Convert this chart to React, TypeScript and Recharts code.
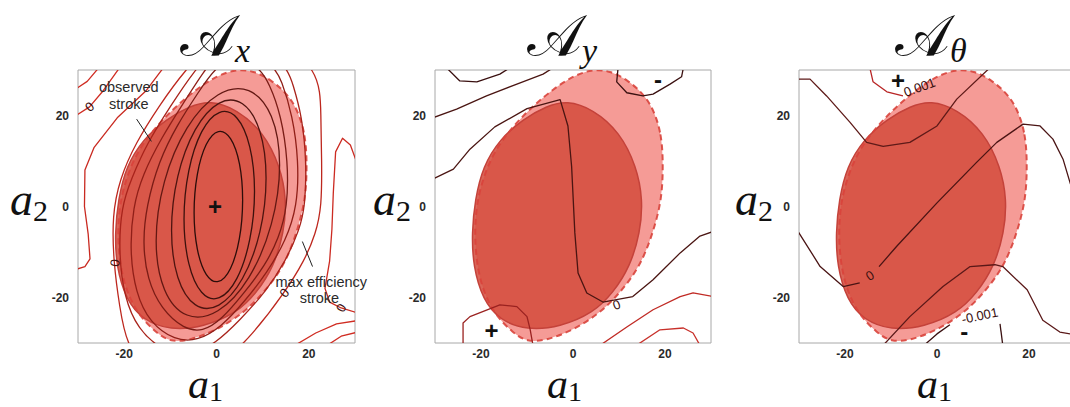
import React from 'react';
import { ScatterChart, Scatter, XAxis, YAxis, ReferenceArea, Curve } from 'recharts';

type P = [number, number];
type Lbl = { x: number; y: number; text: string; angle?: number };

const DOMAIN: [number, number] = [-30, 30];
const TICKS = [-20, 0, 20];

// stroke regions in (a1, a2) space
const maxEffStroke: P[] = [
  [19.6, 8.8], [19.3, 16.3], [16.7, 23.6], [11.7, 28], [8, 29.8], [4.3, 30.2], [0, 28.7],
  [-4.3, 25.8], [-8.7, 22.1], [-13, 17.7], [-17.4, 11.9], [-20.2, 4.4], [-21.3, -2.2],
  [-21.3, -9.5], [-20.2, -16.8], [-17.4, -23.4], [-13, -27.8], [-10, -29.8], [-5.7, -29.4],
  [0, -27.2], [5.9, -23.4], [10.2, -19], [14.6, -13.2], [17.4, -5.8], [19.3, 1.5],
];
const observedStroke: P[] = [
  [15.2, 1.5], [13.8, 8.8], [10.2, 16.3], [4.4, 21.4], [-1.4, 23.3], [-5.7, 22.1],
  [-10.9, 19.2], [-15.9, 14.8], [-19.6, 8.8], [-21.3, 1.5], [-22, -5.8], [-21.7, -13.2],
  [-19.6, -20.5], [-15.9, -25], [-10, -27.2], [-2.8, -26.5], [4.4, -23.4], [8.7, -19],
  [12.4, -13.2], [14.6, -5.8],
];

// A_x contour levels (closed rings, innermost first)
const ax1: P[] = [[5.9, 1.4], [5.2, 9.8], [3.15, 15.6], [0.4, 17.25], [-2.35, 14.25], [-4.36, 7.4], [-5.1, -1.4], [-4.36, -9.8], [-2.35, -15.6], [0.4, -17.25], [3.15, -14.25], [5.16, -7.4]];
const ax2: P[] = [[8.6, 3.5], [7.5, 13.7], [4.6, 20.35], [0.6, 21.6], [-3.4, 17.15], [-6.3, 8.2], [-7.4, -2.9], [-6.3, -13.1], [-3.4, -19.75], [0.6, -21.0], [4.6, -16.55], [7.5, -7.6]];
const ax3: P[] = [[11.2, 6.5], [9.8, 17.3], [5.85, 23.6], [0.5, 23.7], [-4.85, 17.6], [-8.8, 6.9], [-10.2, -5.5], [-8.8, -16.3], [-4.85, -22.6], [0.5, -22.7], [5.85, -16.6], [9.8, -5.9]];
const ax4: P[] = [[14.3, 9.5], [12.4, 20.7], [7.3, 26.6], [0.3, 25.6], [-6.7, 18.0], [-11.8, 5.7], [-13.7, -7.9], [-11.8, -19.1], [-6.7, -25.0], [0.3, -24.0], [7.3, -16.4], [12.4, -4.1]];
const ax5: P[] = [[15.4, 0], [15.5, 10], [14, 20], [11.5, 27], [9, 31], [4, 32.5], [0, 31], [-4, 25], [-8.5, 18], [-12.5, 10], [-15.2, 0], [-16, -8], [-15, -16], [-12, -22.5], [-7, -27], [-3, -27.5], [1, -25], [6, -19], [10.5, -13], [13.5, -7]];
const ax6: P[] = [[17.5, 0], [17.8, 10], [16.5, 20], [14, 28], [12.6, 30.5], [8, 34], [0, 33], [-2.6, 30], [-7, 23], [-12, 15], [-16, 7], [-18.1, 0], [-18.8, -10], [-17.5, -19], [-14.5, -25.5], [-9, -29.5], [-4, -29.5], [1, -26.5], [6, -21], [11, -14.5], [15, -7.5]];
const ax7: P[] = [[19.2, 0], [19.5, 10], [18.5, 20], [16.5, 27], [15.4, 30.5], [10, 35], [0, 35], [-4.8, 30], [-10, 22], [-15, 14], [-18.5, 6], [-20.6, 0], [-21.2, -10], [-20, -20], [-17, -27], [-12, -31.5], [-6, -33], [0, -30], [5, -25], [10.5, -19], [15, -12], [18, -5]];
const ax8: P[] = [[22.8, 0], [22.8, 10], [22.6, 20], [22.4, 30.5], [12, 37], [0, 37], [-6.9, 30], [-12.5, 22], [-17.5, 14], [-21, 6], [-22.6, -2], [-22.3, -12.4], [-21, -22], [-19.5, -30.5], [-15, -36], [0, -36], [8, -28], [14.7, -19], [19, -12], [21.5, -6]];

// A_x open contour pieces reaching the frame
const ax9: P[] = [[-31, -14], [-28.5, -13.2], [-27.4, -11.5], [-27.8, -6], [-28.6, 0], [-28.5, 8], [-26.5, 13], [-21.5, 19.5], [-15.2, 25.5], [-11.5, 30.5]];
const axBump: P[] = [[31, 8], [29, 13.5], [27.3, 15], [25.8, 12], [25.3, 3], [25, -5], [24.5, -12], [23.5, -18], [24.5, -21], [27, -22.3], [31, -23.5]];
const axCornerA: P[] = [[-31, 19.6], [-27.5, 21.9], [-24.5, 25.5], [-21, 30.5]];
const axCornerB: P[] = [[-31, 25.5], [-28, 27.5], [-25.5, 30.5]];
const axCornerC: P[] = [[17, -30.5], [21.5, -27.8], [26, -25.8], [31, -25]];
const axCornerD: P[] = [[24, -30.5], [27, -28.5], [31, -27.5]];

const axRings = [ax1, ax2, ax3, ax4, ax5, ax6, ax7, ax8];
const axRingColors = ['#2c0d0a', '#3c110d', '#4e1410', '#631813', '#7a1c16', '#901f18', '#a8231b', '#bd271e'];
const axOpen = [ax9, axBump, axCornerA, axCornerB, axCornerC, axCornerD];
const axOpenColors = ['#c92a21', '#cc2b22', '#d02c22', '#d02c22', '#d02c22', '#d02c22'];

const axLeaderObserved: P[] = [[-17.3, 19.2], [-14.1, 14.3]];
const axLeaderMaxEff: P[] = [[18.6, -7.7], [20.8, -13.2]];

const axNotes: Lbl[] = [
  { x: -19, y: 26.3, text: 'observed' },
  { x: -19, y: 22.5, text: 'stroke' },
  { x: 22.7, y: -16.6, text: 'max efficiency' },
  { x: 22.3, y: -20, text: 'stroke' },
];
const axLevelLabels: Lbl[] = [
  { x: -27.5, y: 21.9, text: '0', angle: -40 },
  { x: -22, y: -12.4, text: '0', angle: -80 },
  { x: 14.7, y: -19, text: '0', angle: -50 },
  { x: 27, y: -22.3, text: '0', angle: -60 },
];
const axSigns: Lbl[] = [{ x: -0.3, y: 0, text: '+' }];

// A_y contours
const ay1: P[] = [[-27.5, 30.5], [-24.6, 27.6], [-20.9, 27.4], [-15.9, 29.1], [-13.7, 30.5]];
const ay2: P[] = [[-30.5, 19.5], [-25.3, 21.4], [-18.8, 24.3], [-12.2, 26.9], [-6.5, 29.1], [-4.3, 30.5]];
const ayZero: P[] = [[-30.5, 6], [-26, 8.2], [-22.4, 12.6], [-17, 17.5], [-10, 21.5], [-2.8, 23.5], [-1.1, 17.7], [-0.3, 8.8], [0.4, -5.8], [1.1, -14.6], [3, -19], [6.5, -21], [13, -19.8], [17.4, -16.1], [23.3, -10.2], [27.6, -6.5], [30.5, -5.5]];
const ay3: P[] = [[9.8, 30.5], [9.5, 27.4], [11.7, 25], [15.2, 24.3], [17.4, 24.7], [21.1, 26.9], [23.6, 28.5], [24, 30.5]];
const ay4: P[] = [[-23.9, -30.5], [-23.9, -25.6], [-22.4, -24.2], [-15.9, -21.6], [-12.2, -22], [-10, -24.2], [-9.3, -27.1], [-8.7, -30.5]];
const ay5: P[] = [[5.9, -30.5], [11.7, -26.5], [17.4, -22.7], [23.3, -19.8], [26.1, -19], [30.5, -19.8]];
const ay6: P[] = [[13.8, -30.5], [18.9, -27.1], [24, -26.7], [26.1, -27.8], [27.6, -30.5]];
const ayLines = [ay1, ay2, ayZero, ay3, ay4, ay5, ay6];
const ayColors = ['#3a1010', '#4a1512', '#4a1512', '#3a1010', '#9a2220', '#c02a24', '#c8302a'];
const ayLevelLabels: Lbl[] = [{ x: 9.5, y: -21.6, text: '0', angle: -20 }];
const aySigns: Lbl[] = [{ x: -17.7, y: -27.2, text: '+' }, { x: 18.5, y: 28, text: '-' }];

// A_theta contours
const at1: P[] = [[-30.5, 28], [-27.6, 28], [-24, 24.3], [-18.9, 18.5], [-15.3, 14.1], [-11.7, 13.2], [-5.9, 14.1], [0, 17.7], [4.3, 23.6], [11.5, 30.5]];
const at2: P[] = [[-14.6, 30.5], [-13.9, 27.4], [-10.9, 25.2], [-7.4, 24.3]];
const atZero: P[] = [[-30.5, -5], [-25.4, -13.2], [-20.4, -17.6], [-16.8, -16.8]];
const atZeroB: P[] = [[-12.6, -13.2], [-8.8, -8.8], [0, 0.8], [8.6, 9.7], [13, 14.1], [18.7, 18.1], [22.4, 17.7], [25.2, 14.8], [27.4, 10.4], [29, 5], [30.5, 2]];
const at3: P[] = [[-11.7, -30.5], [-5.9, -24.2], [1.3, -17.6], [7.2, -13.2], [12.6, -12.8], [14.3, -13.2], [19.6, -18.3], [23, -25], [26.7, -27.6], [29, -28], [30.5, -29]];
const at4: P[] = [[-2.8, -30.5], [0, -28], [2.8, -26]];
const at5: P[] = [[13.7, -25.8], [14.3, -30.5]];
const atLines = [at1, at2, atZero, atZeroB, at3, at4, at5];
const atColors = ['#5e1a18', '#b82424', '#4a1414', '#4a1414', '#5a1818', '#3a1010', '#3a1010'];
const atLevelLabels: Lbl[] = [
  { x: -14.6, y: -15.2, text: '0', angle: -30 },
  { x: -3.8, y: 26.2, text: '0.001', angle: -20 },
  { x: 9.3, y: -24, text: '-0.001', angle: -12 },
];
const atSigns: Lbl[] = [{ x: -8.5, y: 27.6, text: '+' }, { x: 5.9, y: -27.5, text: '-' }];

const toRows = (pts: P[]) => pts.map(([x, y]) => ({ x, y }));
const noDot = () => <g />;
const SANS = 'Liberation Sans, Arial, Helvetica, sans-serif';

const textShape = (fontSize: number, fontWeight: number | string, fill: string) => (p: any) => {
  const d = p.payload as Lbl;
  return (
    <text
      x={p.cx}
      y={p.cy}
      textAnchor="middle"
      dominantBaseline="central"
      fontSize={fontSize}
      fontWeight={fontWeight}
      fill={fill}
      fontFamily={SANS}
      transform={d.angle ? `rotate(${d.angle} ${p.cx} ${p.cy})` : undefined}
    >
      {d.text}
    </text>
  );
};

type LineSpec = { pts: P[]; color: string; closed?: boolean; width?: number };

type PanelProps = {
  left: number;
  right: number;
  lines: LineSpec[];
  notes?: Lbl[];
  leaders?: P[][];
  levelLabels: Lbl[];
  signs: Lbl[];
};

const CHART_W = 1080;
const PLOT_TOP = 70;
const PLOT_BOTTOM = 343;
const TICK_STYLE = { fontSize: 12, fill: '#2a2a2a', fontFamily: SANS, fontWeight: 'bold' as const };

function Panel({ left, right, lines, notes = [], leaders = [], levelLabels, signs }: PanelProps) {
  return (
    <ScatterChart
      width={CHART_W}
      height={407}
      margin={{ top: PLOT_TOP, right: CHART_W - right, bottom: 407 - PLOT_BOTTOM - 30, left: left - 30 }}
      style={{ position: 'absolute', left: 0, top: 0 }}
    >
      <XAxis
        type="number"
        dataKey="x"
        domain={DOMAIN}
        ticks={TICKS}
        height={30}
        axisLine={false}
        tickLine={false}
        tickSize={5}
        tickMargin={1}
        tick={TICK_STYLE}
      />
      <YAxis
        type="number"
        dataKey="y"
        domain={DOMAIN}
        ticks={TICKS}
        width={30}
        axisLine={false}
        tickLine={false}
        tickSize={6}
        tickMargin={3}
        tick={TICK_STYLE}
      />
      <XAxis xAxisId="clip" type="number" dataKey="x" domain={DOMAIN} allowDataOverflow hide />
      <YAxis yAxisId="clip" type="number" dataKey="y" domain={DOMAIN} allowDataOverflow hide />
      <ReferenceArea x1={-30} x2={30} y1={-30} y2={30} fill="#ffffff" fillOpacity={0} stroke="#a8a8a8" strokeWidth={1} />

      <Scatter
        data={toRows(maxEffStroke)}
        xAxisId="clip"
        yAxisId="clip"
        isAnimationActive={false}
        shape={noDot}
        lineType="joint"
        line={(lp: any) => (
          <Curve points={lp.points} type="basisClosed" fill="#f59b96" stroke="none" />
        )}
      />
      <Scatter
        data={toRows(observedStroke)}
        xAxisId="clip"
        yAxisId="clip"
        isAnimationActive={false}
        shape={noDot}
        lineType="joint"
        line={(lp: any) => (
          <Curve points={lp.points} type="basisClosed" fill="#d44c3d" fillOpacity={0.86} stroke="#c4423a" strokeWidth={1.5} />
        )}
      />
      <Scatter
        data={toRows(maxEffStroke)}
        xAxisId="clip"
        yAxisId="clip"
        isAnimationActive={false}
        shape={noDot}
        lineType="joint"
        line={(lp: any) => (
          <Curve points={lp.points} type="basisClosed" fill="none" stroke="#d8433b" strokeWidth={2} strokeDasharray="6 4" strokeOpacity={0.9} />
        )}
      />

      {lines.map((l, i) => (
        <Scatter
          key={`c${i}`}
          data={toRows(l.pts)}
          xAxisId="clip"
          yAxisId="clip"
          isAnimationActive={false}
          shape={noDot}
          lineType="joint"
          line={(lp: any) => (
            <Curve points={lp.points} type={l.closed ? 'basisClosed' : 'linear'} fill="none" stroke={l.color} strokeWidth={l.width ?? 1.3} strokeLinejoin="round" />
          )}
        />
      ))}

      {leaders.map((pts, i) => (
        <Scatter
          key={`ld${i}`}
          data={toRows(pts)}
          isAnimationActive={false}
          shape={noDot}
          lineType="joint"
          line={(lp: any) => <Curve points={lp.points} type="linear" fill="none" stroke="#222" strokeWidth={1} />}
        />
      ))}

      <Scatter data={notes} isAnimationActive={false} shape={textShape(14.5, 'normal', '#2a2a2a')} />
      <Scatter data={levelLabels} isAnimationActive={false} shape={textShape(13, 'normal', '#3a1010')} />
      <Scatter data={signs} isAnimationActive={false} shape={textShape(24, 'bold', '#111')} />
    </ScatterChart>
  );
}

const SERIF = 'Liberation Serif, Times New Roman, serif';
const SCRIPT = 'DejaVu Serif, DejaVu Sans, serif';

function Titles() {
  const titles = [
    { x: 180, sub: 'x' },
    { x: 527, sub: 'y' },
    { x: 895, sub: 'θ' },
  ];
  const a1x = [188, 547, 917];
  const a2x = [10, 373, 735];
  return (
    <svg width={1070} height={407} style={{ position: 'absolute', left: 0, top: 0, pointerEvents: 'none' }}>
      {titles.map((t) => (
        <text key={t.x} x={t.x} y={56} fill="#111">
          <tspan fontFamily={SCRIPT} fontSize={58}>𝒜</tspan>
          <tspan fontFamily={SERIF} fontStyle="italic" fontSize={34} dy={6}>{t.sub}</tspan>
        </text>
      ))}
      {a1x.map((x) => (
        <text key={`a1${x}`} x={x} y={398} fill="#111">
          <tspan fontFamily={SERIF} fontStyle="italic" fontSize={42}>a</tspan>
          <tspan fontFamily={SERIF} fontSize={28} dy={3}>1</tspan>
        </text>
      ))}
      {a2x.map((x) => (
        <text key={`a2${x}`} x={x} y={215} fill="#111">
          <tspan fontFamily={SERIF} fontStyle="italic" fontSize={46}>a</tspan>
          <tspan fontFamily={SERIF} fontSize={30} dy={6}>2</tspan>
        </text>
      ))}
    </svg>
  );
}

export default function App() {
  const axLines: LineSpec[] = [
    ...axRings.map((pts, i) => ({ pts, color: axRingColors[i], closed: true })),
    ...axOpen.map((pts, i) => ({ pts, color: axOpenColors[i] })),
  ];
  const ayLineSpecs: LineSpec[] = ayLines.map((pts, i) => ({ pts, color: ayColors[i] }));
  const atLineSpecs: LineSpec[] = atLines.map((pts, i) => ({ pts, color: atColors[i] }));
  return (
    <div style={{ position: 'absolute', left: 0, top: 0, width: 1070, height: 407, overflow: 'hidden', background: '#fff' }}>
      <Panel
        left={78}
        right={355}
        lines={axLines}
        notes={axNotes}
        leaders={[axLeaderObserved, axLeaderMaxEff]}
        levelLabels={axLevelLabels}
        signs={axSigns}
      />
      <Panel left={435} right={711} lines={ayLineSpecs} levelLabels={ayLevelLabels} signs={aySigns} />
      <Panel left={799} right={1075} lines={atLineSpecs} levelLabels={atLevelLabels} signs={atSigns} />
      <Titles />
    </div>
  );
}
